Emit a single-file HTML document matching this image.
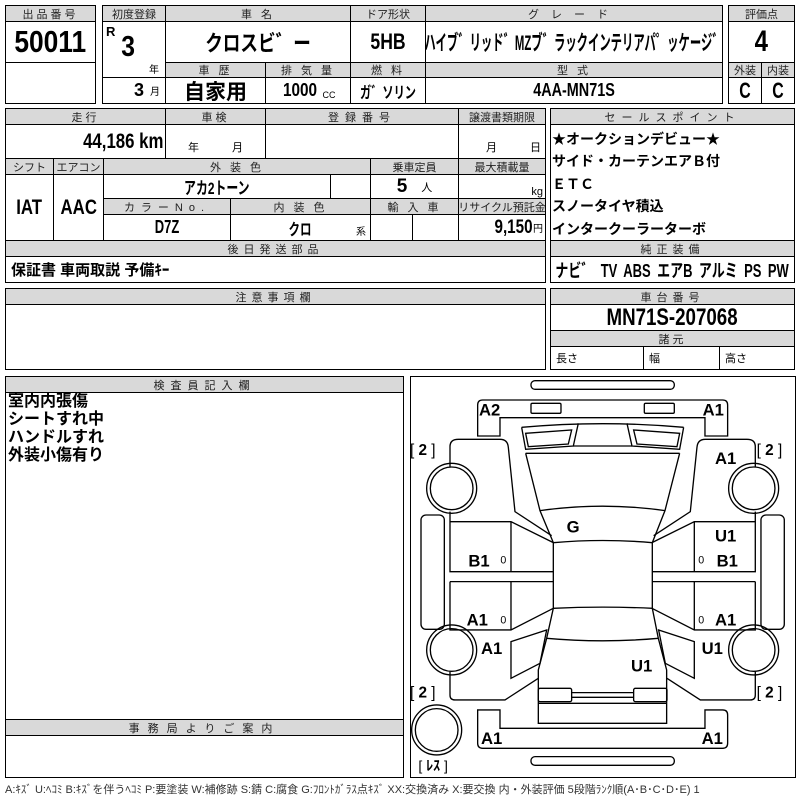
<!DOCTYPE html>
<html><head><meta charset="utf-8">
<style>
*{margin:0;padding:0;box-sizing:border-box}
body{width:800px;height:800px;background:#fff;position:relative;overflow:hidden;font-family:"Liberation Sans","Noto Sans CJK JP",sans-serif;color:#000}
.c{position:absolute;border:1px solid #000;display:flex;align-items:center;justify-content:center;white-space:nowrap;overflow:hidden}
.h{background:#d9d9d9;font-size:11px;letter-spacing:3px;color:#222}
.b{font-weight:bold}
.n{display:inline-block;transform:scaleX(.72)}
.t{position:absolute;white-space:nowrap}
</style></head><body>

<div class="c" style="left:5px;top:5px;width:91px;height:99px;border-width:1px"></div>
<div class="c h" style="left:5px;top:5px;width:91px;height:17px">出品番号</div>
<div class="c b" style="left:5px;top:21px;width:91px;height:42px;font-size:31px"><span class="n" style="transform:scaleX(.85)">50011</span></div>

<div class="c h" style="left:102px;top:5px;width:64px;height:17px;letter-spacing:0">初度登録</div>
<div class="c h" style="left:165px;top:5px;width:186px;height:17px">車 名</div>
<div class="c h" style="left:350px;top:5px;width:76px;height:17px;letter-spacing:0">ドア形状</div>
<div class="c h" style="left:425px;top:5px;width:298px;height:17px;letter-spacing:12px">グレード</div>
<div class="c" style="left:102px;top:21px;width:64px;height:83px"></div>
<div class="t b" style="left:106px;top:24px;font-size:13px">R</div>
<div class="t b" style="left:120px;top:31px;font-size:29px"><span class="n" style="transform:scaleX(.85)">3</span></div>
<div class="t" style="left:149px;top:61px;font-size:10px">年</div>
<div class="c" style="left:102px;top:77px;width:64px;height:27px;justify-content:flex-end;padding-right:5px"><span class="b" style="font-size:18px;margin-right:6px">3</span><span style="font-size:10px">月</span></div>
<div class="c b" style="left:165px;top:21px;width:186px;height:42px;font-size:22px"><span class="n" style="transform:scaleX(.8)">クロスビ゛ー</span></div>
<div class="c b" style="left:350px;top:21px;width:76px;height:42px;font-size:22px"><span class="n" style="transform:scaleX(.8)">5HB</span></div>
<div class="c b" style="left:425px;top:21px;width:298px;height:42px;font-size:21px"><span class="n" style="transform:scaleX(.54)">ハイブ゛リッド゛MZブ゛ラックインテリアパ゜ッケージ゛</span></div>
<div class="c h" style="left:165px;top:62px;width:101px;height:16px">車 歴</div>
<div class="c h" style="left:265px;top:62px;width:86px;height:16px">排 気 量</div>
<div class="c h" style="left:350px;top:62px;width:76px;height:16px">燃 料</div>
<div class="c h" style="left:425px;top:62px;width:298px;height:16px">型 式</div>
<div class="c b" style="left:165px;top:77px;width:101px;height:27px;font-size:21px">自家用</div>
<div class="c" style="left:265px;top:77px;width:86px;height:27px"><span class="b n" style="font-size:18px;transform:scaleX(.85)">1000</span><span style="font-size:9px;margin-top:8px;margin-left:2px">CC</span></div>
<div class="c b" style="left:350px;top:77px;width:76px;height:27px;font-size:16px"><span class="n" style="transform:scaleX(.7)">ガ゛ソリン</span></div>
<div class="c b" style="left:425px;top:77px;width:298px;height:27px;font-size:18px"><span class="n" style="transform:scaleX(.8)">4AA-MN71S</span></div>

<div class="c h" style="left:728px;top:5px;width:67px;height:17px;letter-spacing:0">評価点</div>
<div class="c b" style="left:728px;top:21px;width:67px;height:42px;font-size:30px"><span class="n" style="transform:scaleX(.8)">4</span></div>
<div class="c h" style="left:728px;top:62px;width:34px;height:16px;letter-spacing:0">外装</div>
<div class="c h" style="left:761px;top:62px;width:34px;height:16px;letter-spacing:0">内装</div>
<div class="c b" style="left:728px;top:77px;width:34px;height:27px;font-size:22px"><span class="n">C</span></div>
<div class="c b" style="left:761px;top:77px;width:34px;height:27px;font-size:22px"><span class="n">C</span></div>

<div class="c h" style="left:5px;top:108px;width:161px;height:17px">走行</div>
<div class="c h" style="left:165px;top:108px;width:101px;height:17px">車検</div>
<div class="c h" style="left:265px;top:108px;width:194px;height:17px;letter-spacing:6px">登録番号</div>
<div class="c h" style="left:458px;top:108px;width:88px;height:17px;letter-spacing:0">譲渡書類期限</div>
<div class="c" style="left:5px;top:124px;width:161px;height:35px;justify-content:flex-end;padding-right:2px"><span class="b n" style="font-size:21px;transform-origin:right;transform:scaleX(.8)">44,186 km</span></div>
<div class="c" style="left:165px;top:124px;width:101px;height:35px;font-size:11px;align-items:flex-end;padding-bottom:3px;word-spacing:30px">年 月</div>
<div class="c" style="left:265px;top:124px;width:194px;height:35px"></div>
<div class="c" style="left:458px;top:124px;width:88px;height:35px;font-size:11px;align-items:flex-end;padding-bottom:3px;justify-content:flex-end;padding-right:4px;word-spacing:30px">月 日</div>
<div class="c h" style="left:5px;top:158px;width:49px;height:17px;letter-spacing:0">シフト</div>
<div class="c h" style="left:53px;top:158px;width:51px;height:17px;letter-spacing:0">エアコン</div>
<div class="c h" style="left:103px;top:158px;width:268px;height:17px">外 装 色</div>
<div class="c h" style="left:370px;top:158px;width:89px;height:17px;letter-spacing:0">乗車定員</div>
<div class="c h" style="left:458px;top:158px;width:88px;height:17px;letter-spacing:0">最大積載量</div>
<div class="c b" style="left:5px;top:174px;width:49px;height:67px;font-size:21px"><span class="n" style="transform:scaleX(.8)">IAT</span></div>
<div class="c b" style="left:53px;top:174px;width:51px;height:67px;font-size:21px"><span class="n" style="transform:scaleX(.8)">AAC</span></div>
<div class="c b" style="left:103px;top:174px;width:228px;height:25px;font-size:17px"><span class="n" style="transform:scaleX(.7)">アカ2トーン</span></div>
<div class="c" style="left:330px;top:174px;width:41px;height:25px"></div>
<div class="c" style="left:370px;top:174px;width:89px;height:25px"><span class="b" style="font-size:19px;margin-right:14px">5</span><span style="font-size:11px">人</span></div>
<div class="c" style="left:458px;top:174px;width:88px;height:25px;font-size:11px;justify-content:flex-end;padding-right:2px;align-items:flex-end">kg</div>
<div class="c h" style="left:103px;top:198px;width:128px;height:17px;letter-spacing:6px">カラーNo.</div>
<div class="c h" style="left:230px;top:198px;width:141px;height:17px">内 装 色</div>
<div class="c h" style="left:370px;top:198px;width:89px;height:17px">輸 入 車</div>
<div class="c h" style="left:458px;top:198px;width:88px;height:17px;letter-spacing:0">リサイクル預託金</div>
<div class="c b" style="left:103px;top:214px;width:128px;height:27px;font-size:18px"><span class="n">D7Z</span></div>
<div class="c" style="left:230px;top:214px;width:141px;height:27px"><span class="b n" style="font-size:16px">クロ</span><span style="font-size:10px;position:absolute;right:4px;bottom:2px">系</span></div>
<div class="c" style="left:370px;top:214px;width:43px;height:27px"></div>
<div class="c" style="left:412px;top:214px;width:47px;height:27px"></div>
<div class="c" style="left:458px;top:214px;width:88px;height:27px;justify-content:flex-end;padding-right:2px"><span class="b n" style="font-size:19px;transform-origin:right;transform:scaleX(.8)">9,150</span><span style="font-size:10px">円</span></div>
<div class="c h" style="left:5px;top:240px;width:541px;height:17px;letter-spacing:5px">後日発送部品</div>
<div class="c" style="left:5px;top:256px;width:541px;height:27px;justify-content:flex-start;padding-left:5px"><span class="b" style="font-size:15px">保証書 車両取説 予備ｷｰ</span></div>

<div class="c h" style="left:550px;top:108px;width:245px;height:17px;letter-spacing:6px">セールスポイント</div>
<div class="c" style="left:550px;top:124px;width:245px;height:117px"></div>
<div class="t b" style="left:552px;top:128px;font-size:14px;line-height:22.4px">★オークションデビュー★<br>サイド・カーテンエアＢ付<br>ＥＴＣ<br>スノータイヤ積込<br>インタークーラーターボ</div>
<div class="c h" style="left:550px;top:240px;width:245px;height:17px;letter-spacing:5px">純正装備</div>
<div class="c" style="left:550px;top:256px;width:245px;height:27px"><span class="b n" style="font-size:18px;transform:scaleX(.72);word-spacing:4px">ナビ゛ TV ABS エアB アルミ PS PW</span></div>

<div class="c h" style="left:5px;top:288px;width:541px;height:17px;letter-spacing:5px">注意事項欄</div>
<div class="c" style="left:5px;top:304px;width:541px;height:66px"></div>
<div class="c h" style="left:550px;top:288px;width:245px;height:17px;letter-spacing:5px">車台番号</div>
<div class="c b" style="left:550px;top:304px;width:245px;height:27px;font-size:24px"><span class="n" style="transform:scaleX(.78)">MN71S-207068</span></div>
<div class="c h" style="left:550px;top:330px;width:245px;height:17px">諸元</div>
<div class="c" style="left:550px;top:346px;width:94px;height:24px;font-size:11px;justify-content:flex-start;padding-left:5px">長さ</div>
<div class="c" style="left:643px;top:346px;width:77px;height:24px;font-size:11px;justify-content:flex-start;padding-left:5px">幅</div>
<div class="c" style="left:719px;top:346px;width:76px;height:24px;font-size:11px;justify-content:flex-start;padding-left:5px">高さ</div>

<div class="c" style="left:5px;top:376px;width:399px;height:402px"></div>
<div class="c h" style="left:5px;top:376px;width:399px;height:17px;letter-spacing:6px">検査員記入欄</div>
<div class="t b" style="left:8px;top:393px;font-size:16px;line-height:18px">室内内張傷<br>シートすれ中<br>ハンドルすれ<br>外装小傷有り</div>
<div class="c h" style="left:5px;top:719px;width:399px;height:17px;letter-spacing:8px">事務局よりご案内</div>

<div class="c" style="left:410px;top:376px;width:386px;height:402px"></div>
<svg style="position:absolute;left:0;top:0" width="800" height="800">
<g transform="translate(405,370) scale(0.3333)" fill="none" stroke="#000" stroke-width="4">
<rect x="378" y="32" width="430" height="26" rx="12"/>
<rect x="378" y="1160" width="430" height="26" rx="12"/>
<path d="M218,198 L218,105 Q218,90 233,90 L953,90 Q968,90 968,105 L968,198 L900,198 L900,143 L285,143 L285,198 Z"/>
<path d="M218,1020 L285,1020 L285,1075 L900,1075 L900,1020 L953,1020 Q968,1020 968,1035 L968,1120 Q968,1135 953,1135 L233,1135 Q218,1135 218,1120 Z"/>
<rect x="378" y="100" width="90" height="30" rx="4"/>
<rect x="718" y="100" width="90" height="30" rx="4"/>
<path d="M350,172 Q593,150 836,172"/>
<path d="M350,172 L362,238 L505,228 L520,160"/>
<path d="M362,190 L500,180 L490,222 L370,230 Z"/>
<path d="M836,172 L824,238 L681,228 L666,160"/>
<path d="M824,190 L686,180 L696,222 L816,230 Z"/>
<path d="M505,228 L681,228"/>
<path d="M362,250 L824,250"/>
<path d="M362,250 L405,422 L445,518 L445,715 L425,805 L400,900 L400,1060 L785,1060 L785,900 L760,805 L742,715 L742,518 L780,422 L824,250"/>
<path d="M405,422 Q593,395 780,422"/>
<path d="M445,518 Q593,505 742,518"/>
<path d="M445,715 Q593,708 742,715"/>
<path d="M425,805 Q593,820 760,805"/>
<rect x="400" y="955" width="100" height="40" rx="5"/>
<rect x="686" y="955" width="100" height="40" rx="5"/>
<path d="M500,968 L686,968 M500,982 L686,982 M400,1000 L785,1000"/>
<path d="M135,290 L135,230 Q135,208 160,208 L285,208 Q308,208 310,232 L330,425 L440,497"/>
<path d="M135,425 L135,455 L318,455 L445,518 M135,455 L135,605 L445,605 M135,635 L445,635 M135,635 L135,780 L318,780 L445,715 M318,455 L318,605 M318,635 L318,780"/>
<path d="M135,905 L135,975 Q135,990 150,990 L300,990 L400,925"/>
<path d="M318,815 L425,780 L405,880 L318,925 Z"/>
<rect x="48" y="435" width="70" height="343" rx="15"/>
<circle cx="140" cy="355" r="75"/><circle cx="140" cy="355" r="64"/>
<circle cx="140" cy="840" r="75"/><circle cx="140" cy="840" r="64"/>
<circle cx="95" cy="1080" r="75"/><circle cx="95" cy="1080" r="64"/>
<path d="M1051,290 L1051,230 Q1051,208 1026,208 L901,208 Q878,208 876,232 L856,425 L746,497"/>
<path d="M1051,425 L1051,455 L868,455 L741,518 M1051,455 L1051,605 L741,605 M1051,635 L741,635 M1051,635 L1051,780 L868,780 L741,715 M868,455 L868,605 M868,635 L868,780"/>
<path d="M1051,905 L1051,975 Q1051,990 1036,990 L886,990 L786,925"/>
<path d="M868,815 L761,780 L781,880 L868,925 Z"/>
<rect x="1068" y="435" width="70" height="343" rx="15"/>
<circle cx="1046" cy="355" r="75"/><circle cx="1046" cy="355" r="64"/>
<circle cx="1046" cy="840" r="75"/><circle cx="1046" cy="840" r="64"/>
</g>
<g transform="translate(405,370) scale(0.3333)" font-family="Liberation Sans, sans-serif" font-weight="bold" font-size="50" fill="#000">
<text x="222" y="137">A2</text><text x="893" y="137">A1</text>
<text x="930" y="282">A1</text><text x="485" y="487">G</text>
<text x="930" y="514">U1</text><text x="190" y="590">B1</text><text x="935" y="590">B1</text>
<text x="185" y="767">A1</text><text x="930" y="767">A1</text>
<text x="228" y="852">A1</text><text x="890" y="852">U1</text><text x="678" y="904">U1</text>
<text x="228" y="1122">A1</text><text x="890" y="1122">A1</text>
<text x="286" y="580" font-size="32" font-weight="normal">0</text><text x="880" y="580" font-size="32" font-weight="normal">0</text>
<text x="286" y="760" font-size="32" font-weight="normal">0</text><text x="880" y="760" font-size="32" font-weight="normal">0</text>
<text x="15" y="255" font-weight="normal" font-size="46">[ <tspan font-weight="bold">2</tspan> ]</text>
<text x="1055" y="255" font-weight="normal" font-size="46">[ <tspan font-weight="bold">2</tspan> ]</text>
<text x="15" y="983" font-weight="normal" font-size="46">[ <tspan font-weight="bold">2</tspan> ]</text>
<text x="1055" y="983" font-weight="normal" font-size="46">[ <tspan font-weight="bold">2</tspan> ]</text>
<text x="40" y="1202" font-weight="normal" font-size="42" font-family="Liberation Sans, Noto Sans CJK JP, sans-serif">[ <tspan font-weight="bold">ﾚｽ</tspan> ]</text>
</g>
</svg>

<div class="t" style="left:5px;top:781px;font-size:11px;color:#333">A:ｷｽﾞ U:ﾍｺﾐ B:ｷｽﾞを伴うﾍｺﾐ P:要塗装 W:補修跡 S:錆 C:腐食 G:ﾌﾛﾝﾄｶﾞﾗｽ点ｷｽﾞ XX:交換済み X:要交換 内・外装評価 5段階ﾗﾝｸ順(A･B･C･D･E) 1</div>
</body></html>
